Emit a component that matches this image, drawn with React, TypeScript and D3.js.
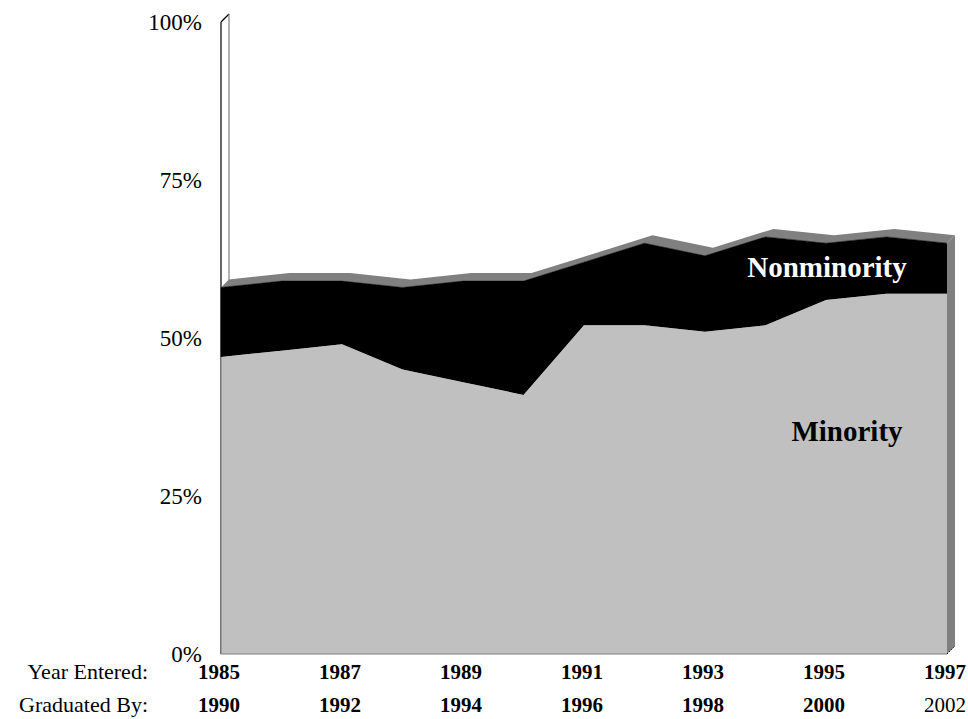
import * as d3 from "d3";

// share of graduates by year entered (percent)
const years = [1985, 1986, 1987, 1988, 1989, 1990, 1991, 1992, 1993, 1994, 1995, 1996, 1997];
const minority = [47, 48, 49, 45, 43, 41, 52, 52, 51, 52, 56, 57, 57];
const nonminority = [11, 11, 10, 13, 16, 18, 10, 13, 12, 14, 9, 9, 8];

const enteredTicks = [1985, 1987, 1989, 1991, 1993, 1995, 1997];
const graduatedTicks = ["1990", "1992", "1994", "1996", "1998", "2000", "2002"];
const pctTicks = [0, 25, 50, 75, 100];

const W = 968;
const H = 719;
const left = 221;
const right = 947;
const bottom = 654;
const top = 22;
const depth = { dx: 8, dy: -8 };
const font = "'Liberation Serif', 'Times New Roman', serif";

const App = () => {
  const x = d3.scalePoint<number>().domain(years).range([left, right]);
  const y = d3.scaleLinear().domain([0, 100]).range([bottom, top]);

  const rows = years.map((yr, i) => ({
    yr,
    m: minority[i],
    t: minority[i] + nonminority[i],
  }));

  const minorityArea = d3
    .area<(typeof rows)[number]>()
    .x((d) => x(d.yr)!)
    .y0(y(0))
    .y1((d) => y(d.m));

  const nonminorityArea = d3
    .area<(typeof rows)[number]>()
    .x((d) => x(d.yr)!)
    .y0((d) => y(d.m))
    .y1((d) => y(d.t));

  // top surface of the stack, front edge then back edge
  const front = rows.map((d) => [x(d.yr)!, y(d.t)] as [number, number]);
  const back = front.map(([a, b]) => [a + depth.dx, b + depth.dy] as [number, number]);
  const band = d3.line()([...front, ...back.reverse()]) + "Z";

  const last = rows[rows.length - 1];
  const xr = x(last.yr)!;
  const side = d3.line()([
    [xr, y(last.t)],
    [xr + depth.dx, y(last.t) + depth.dy],
    [xr + depth.dx, y(0) + depth.dy],
    [xr, y(0)],
  ]) + "Z";

  const wall = d3.line()([
    [left, y(0)],
    [left, y(100)],
    [left + depth.dx, y(100) + depth.dy],
    [left + depth.dx, y(0) + depth.dy],
  ]) + "Z";

  return (
    <svg width={W} height={H} style={{ position: "absolute", left: 0, top: 0, background: "#fff" }}>
      {/* left wall */}
      <path d={wall} fill="#fff" stroke="none" />
      <line x1={left} x2={left} y1={y(0)} y2={y(100)} stroke="#000" strokeWidth={1.2} />
      <line x1={left} x2={left + depth.dx} y1={y(100)} y2={y(100) + depth.dy} stroke="#000" strokeWidth={1.2} />
      <line
        x1={left + depth.dx}
        x2={left + depth.dx}
        y1={y(100) + depth.dy}
        y2={y(0) + depth.dy}
        stroke="#808080"
        strokeWidth={1.2}
      />

      <path d={band} fill="#808080" />
      <path d={nonminorityArea(rows)!} fill="#000" stroke="#000" strokeWidth={0.5} />
      <path d={minorityArea(rows)!} fill="#c0c0c0" />
      <path
        d={d3.line()([[left, y(minority[0])], [left, y(0)], [xr, y(0)]])!}
        fill="none"
        stroke="#808080"
        strokeWidth={1.2}
      />
      <path d={side} fill="#808080" />
      <line
        x1={xr}
        y1={y(0)}
        x2={xr + depth.dx}
        y2={y(0) + depth.dy}
        stroke="#000"
        strokeWidth={1}
        strokeDasharray="1.5 1.5"
      />

      {/* y axis labels */}
      {pctTicks.map((p) => (
        <text
          key={p}
          x={202}
          y={y(p)}
          dy="0.35em"
          textAnchor="end"
          fontFamily={font}
          fontSize={23}
          fill="#000"
        >
          {p}%
        </text>
      ))}

      {/* x axis labels */}
      <text x={148} y={679} textAnchor="end" fontFamily={font} fontSize={22}>
        Year Entered:
      </text>
      <text x={148} y={712} textAnchor="end" fontFamily={font} fontSize={22}>
        Graduated By:
      </text>
      {enteredTicks.map((yr, i) => (
        <g key={yr} fontFamily={font} fontSize={21} textAnchor="middle">
          <text x={x(yr)! - 2} y={679} fontWeight="bold">
            {yr}
          </text>
          <text
            x={x(yr)! - 2}
            y={712}
            fontWeight={i === enteredTicks.length - 1 ? "normal" : "bold"}
          >
            {graduatedTicks[i]}
          </text>
        </g>
      ))}

      {/* series labels */}
      <text x={827} y={277} textAnchor="middle" fontFamily={font} fontSize={29} fontWeight="bold" fill="#fff">
        Nonminority
      </text>
      <text x={847} y={441} textAnchor="middle" fontFamily={font} fontSize={29} fontWeight="bold" fill="#000">
        Minority
      </text>
    </svg>
  );
};

export default App;
